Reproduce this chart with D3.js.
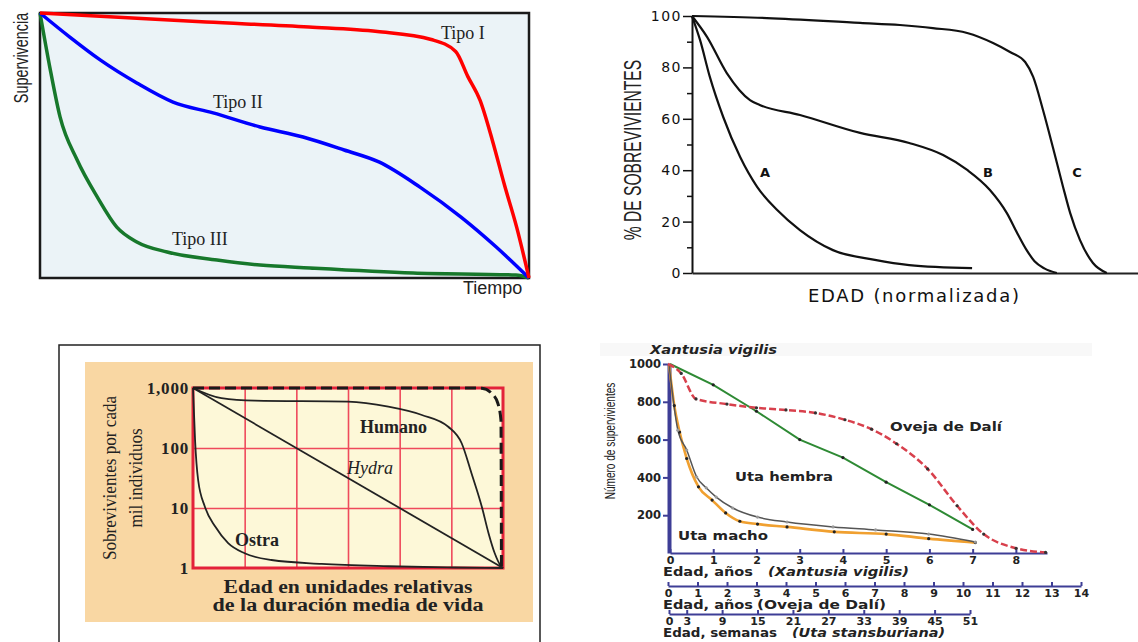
<!DOCTYPE html>
<html lang="es">
<head>
<meta charset="UTF-8">
<title>Curvas de supervivencia</title>
<script src="https://d3js.org/d3.v7.min.js"></script>
<style>
  body { margin: 0; background: #fff; }
  svg { display: block; }
</style>
</head>
<body>
<svg width="1138" height="642"></svg>
<script>
// ---------- Panel 1: Tipo I / II / III (tiempo y supervivencia normalizados 0..1) ----------
const tipoI_t   = [0, 0.34, 0.55, 0.69, 0.80, 0.85, 0.875, 0.90, 0.925, 0.95, 0.975, 1.0];
const tipoI_s   = [1, 0.966, 0.947, 0.93, 0.90, 0.855, 0.76, 0.67, 0.52, 0.35, 0.19, 0];
const tipoII_t  = [0, 0.061, 0.123, 0.198, 0.272, 0.354, 0.45, 0.538, 0.622, 0.693, 0.777, 0.861, 0.933, 1];
const tipoII_s  = [1, 0.909, 0.823, 0.736, 0.664, 0.623, 0.57, 0.532, 0.483, 0.438, 0.343, 0.23, 0.117, 0];
const tipoIII_t = [0, 0.02, 0.041, 0.076, 0.117, 0.157, 0.198, 0.26, 0.362, 0.45, 0.552, 0.763, 0.973, 1];
const tipoIII_s = [1, 0.796, 0.608, 0.445, 0.306, 0.192, 0.136, 0.098, 0.068, 0.049, 0.038, 0.019, 0.011, 0];

// ---------- Panel 2: curvas A, B, C (% de sobrevivientes vs edad normalizada, % del eje) ----------
const curvaA_x = [0, 1.8, 4.0, 7.0, 10.8, 14.6, 19.1, 24.2, 31.6, 41.0, 48.7, 62.8];
const curvaA_y = [100, 90.7, 76.3, 60.7, 45.1, 33.5, 24.5, 16.7, 8.9, 5.1, 3.1, 1.9];
const curvaB_x = [0, 3.4, 7.8, 13.0, 15.2, 24.2, 37.7, 48.7, 56.3, 61.7, 66.8, 70.6, 72.9, 75.0, 76.8, 79.0, 81.8];
const curvaB_y = [100, 91.8, 77.8, 67.3, 65.4, 61.5, 54.5, 50.6, 45.9, 40.1, 32.3, 23.3, 15.6, 9.0, 4.6, 1.8, 0];
const curvaC_x = [0, 16.8, 37.7, 46.6, 54.0, 61.7, 67.5, 71.3, 74.7, 76.5, 78.7, 80.9, 83.2, 84.8, 87.0, 89.9, 93.0];
const curvaC_y = [100, 99.2, 97.3, 96.5, 95.3, 93.4, 89.5, 86.0, 82.1, 76.3, 63.4, 49.0, 33.5, 23.3, 12.8, 3.9, 0];
const pctTicks = [0, 20, 40, 60, 80, 100];
const pctMinor = [10, 30, 50, 70, 90];

// ---------- Panel 3: Humano / Hydra / Ostra (escala log, 6 unidades relativas) ----------
const humano_x = [0, 0.55, 1.2, 3.0, 3.78, 4.43, 4.94, 5.2, 5.39, 5.59, 5.72, 5.84, 5.97, 6];
const humano_n = [1000, 676, 614, 591, 488, 355, 226, 120, 38, 10.5, 3.8, 1.76, 1.05, 1];
const hydra_x  = [0, 6];
const hydra_n  = [1000, 1];
const ostra_x  = [0, 0.04, 0.1, 0.23, 0.43, 0.68, 1.0, 1.52, 2.49, 3.78, 5.07, 6];
const ostra_n  = [1000, 135, 29, 10.5, 4.9, 2.6, 1.76, 1.36, 1.17, 1.07, 1.02, 1];
const ideal_x  = [0, 5.4, 5.59, 5.78, 5.9, 5.96, 5.97];
const ideal_n  = [1000, 1000, 990, 815, 556, 293, 1];
const logTicks = [1, 10, 100, 1000];

// ---------- Panel 4: Xantusia, Oveja de Dalí, Uta ----------
const xantusia_anos = [0, 1, 2, 3, 4, 5, 6, 7];
const xantusia_n    = [1000, 890, 750, 600, 505, 375, 255, 125];
const oveja_anos    = [0, 0.45, 0.95, 2, 3, 4, 5, 6, 6.9, 7.75, 8.8, 9.8, 10.7, 11.8, 12.8];
const oveja_n       = [1000, 950, 815, 788, 768, 757, 741, 705, 655, 578, 445, 250, 100, 25, 3];
const utaH_sem      = [0, 1.5, 3, 4.7, 6.3, 8, 10.8, 15, 20, 27.8, 35, 44, 51.9];
const utaH_n        = [1000, 650, 545, 402, 345, 296, 238, 190, 164, 138, 122, 100, 58];
const utaM_sem      = [0, 0.9, 1.8, 3.0, 5.0, 7.3, 9.6, 12, 15, 20, 28, 36.8, 44, 51.9];
const utaM_n        = [1000, 780, 640, 500, 350, 280, 212, 168, 153, 138, 112, 100, 76, 55];
const nTicks        = [200, 400, 600, 800, 1000];
const xantusiaTicks = d3.range(0, 9);
const ovejaTicks    = d3.range(0, 15);
const utaTicks      = [0, 3, 9, 15, 21, 27, 33, 39, 45, 51];

const zip = (a, b) => a.map((v, i) => [v, b[i]]);
const svg = d3.select("svg");
svg.append("rect").attr("width", 1138).attr("height", 642).attr("fill", "#fff");

const serif = "'Liberation Serif', 'Times New Roman', serif";
const sans = "'Liberation Sans', Arial, sans-serif";

// rotated, horizontally condensed label (narrow typeface look)
function vLabel(g, text, x, y, size, squeeze, family) {
  g.append("text").text(text)
    .attr("transform", `translate(${x},${y}) rotate(-90) scale(${squeeze},1)`)
    .attr("text-anchor", "middle").attr("dominant-baseline", "central")
    .attr("font-family", family || sans).attr("font-size", size).attr("fill", "#222");
}

// ================= Panel 1 =================
const x1 = d3.scaleLinear().domain([0, 1]).range([40, 529]);
const y1 = d3.scaleLinear().domain([0, 1]).range([278, 13]);
const p1 = svg.append("g");
p1.append("rect")
  .attr("x", x1(0)).attr("y", y1(1))
  .attr("width", x1(1) - x1(0)).attr("height", y1(0) - y1(1))
  .attr("fill", "#ebf3f7").attr("stroke", "#1a1a1a").attr("stroke-width", 2.5);
const line1 = d3.line().x(d => x1(d[0])).y(d => y1(d[1])).curve(d3.curveMonotoneX);
[[tipoIII_t, tipoIII_s, "#17782b"], [tipoII_t, tipoII_s, "#0000ff"], [tipoI_t, tipoI_s, "#ff0000"]]
  .forEach(([t, s, c]) => {
    p1.append("path").attr("d", line1(zip(t, s)))
      .attr("fill", "none").attr("stroke", c).attr("stroke-width", 3.5);
  });
[["Tipo I", 441, 33], ["Tipo II", 213, 102], ["Tipo III", 172, 239]].forEach(([t, x, y]) => {
  p1.append("text").text(t).attr("x", x).attr("y", y)
    .attr("dominant-baseline", "central")
    .attr("font-family", serif).attr("font-size", 18).attr("fill", "#222");
});
vLabel(p1, "Supervivencia", 21, 58, 20, 0.72);
p1.append("text").text("Tiempo")
  .attr("x", 463).attr("y", 288).attr("dominant-baseline", "central")
  .attr("font-family", sans).attr("font-size", 18).attr("fill", "#222");

// ================= Panel 2 =================
const x2 = d3.scaleLinear().domain([0, 100]).range([692, 1138]);
const y2 = d3.scaleLinear().domain([0, 100]).range([273, 16]);
const p2 = svg.append("g");
const ax2 = p2.append("g").attr("transform", "translate(692,0)")
  .call(d3.axisLeft(y2).tickValues(pctTicks).tickSize(9).tickSizeOuter(0).tickPadding(1));
ax2.select(".domain").attr("stroke", "#111").attr("stroke-width", 2);
ax2.selectAll("line").attr("stroke", "#111").attr("stroke-width", 1.5);
ax2.selectAll("text").attr("font-family", "'DejaVu Sans', sans-serif")
  .attr("font-size", 14).attr("letter-spacing", 1.5).attr("fill", "#111");
const ax2m = p2.append("g").attr("transform", "translate(692,0)")
  .call(d3.axisLeft(y2).tickValues(pctMinor).tickSize(5).tickFormat(""));
ax2m.select(".domain").remove();
ax2m.selectAll("line").attr("stroke", "#111").attr("stroke-width", 1.5);
const ax2x = p2.append("g").attr("transform", "translate(0,273)")
  .call(d3.axisBottom(x2).tickValues([]).tickSizeOuter(0));
ax2x.select(".domain").attr("stroke", "#222").attr("stroke-width", 2);
const line2 = d3.line().x(d => x2(d[0])).y(d => y2(d[1])).curve(d3.curveMonotoneX);
[[curvaA_x, curvaA_y], [curvaB_x, curvaB_y], [curvaC_x, curvaC_y]].forEach(([a, b]) => {
  p2.append("path").attr("d", line2(zip(a, b)))
    .attr("fill", "none").attr("stroke", "#111").attr("stroke-width", 2.2);
});
[["A", 765], ["B", 988], ["C", 1077]].forEach(([t, x]) => {
  p2.append("text").text(t).attr("x", x).attr("y", 172)
    .attr("text-anchor", "middle").attr("dominant-baseline", "central")
    .attr("font-family", "'DejaVu Sans', sans-serif").attr("font-weight", "bold")
    .attr("font-size", 13).attr("fill", "#111");
});
vLabel(p2, "% DE SOBREVIVIENTES", 633, 150, 24, 0.65);
p2.append("text").text("EDAD (normalizada)")
  .attr("x", 808).attr("y", 295).attr("dominant-baseline", "central")
  .attr("font-family", "'DejaVu Sans', sans-serif").attr("font-size", 18)
  .attr("textLength", 211).attr("lengthAdjust", "spacing").attr("fill", "#111");

// ================= Panel 3 =================
const x3 = d3.scaleLinear().domain([0, 6]).range([193, 503]);
const y3 = d3.scaleLog().domain([1, 1000]).range([568, 388]);
const p3 = svg.append("g");
p3.append("rect").attr("x", 59).attr("y", 345).attr("width", 481).attr("height", 310)
  .attr("fill", "#fff").attr("stroke", "#222").attr("stroke-width", 1.5);
p3.append("rect").attr("x", 85).attr("y", 362).attr("width", 448).attr("height", 260)
  .attr("fill", "#f9d7a3");
p3.append("rect").attr("x", x3(0)).attr("y", y3(1000))
  .attr("width", x3(6) - x3(0)).attr("height", y3(1) - y3(1000)).attr("fill", "#fdf8d8");
const gx3 = p3.append("g").attr("transform", `translate(0,${y3(1)})`)
  .call(d3.axisBottom(x3).tickValues([1, 2, 3, 4, 5]).tickSize(-(y3(1) - y3(1000))).tickFormat(""));
const gy3 = p3.append("g").attr("transform", `translate(${x3(0)},0)`)
  .call(d3.axisLeft(y3).tickValues([10, 100]).tickSize(-(x3(6) - x3(0))).tickFormat(""));
[gx3, gy3].forEach(g => {
  g.select(".domain").remove();
  g.selectAll("line").attr("stroke", "#ef4a5c").attr("stroke-width", 1.6);
});
p3.append("rect").attr("x", x3(0)).attr("y", y3(1000))
  .attr("width", x3(6) - x3(0)).attr("height", y3(1) - y3(1000))
  .attr("fill", "none").attr("stroke", "#e3223a").attr("stroke-width", 3);
const ty3 = p3.append("g").attr("transform", `translate(${x3(0) - 2},0)`)
  .call(d3.axisLeft(y3).tickValues(logTicks).tickFormat(d3.format(",")).tickSize(0).tickPadding(2));
ty3.select(".domain").remove();
ty3.selectAll("text").attr("font-family", serif).attr("font-weight", "bold")
  .attr("font-size", 17).attr("letter-spacing", 0.8).attr("fill", "#222");
const line3 = d3.line().x(d => x3(d[0])).y(d => y3(d[1])).curve(d3.curveMonotoneX);
[[humano_x, humano_n], [hydra_x, hydra_n], [ostra_x, ostra_n]].forEach(([a, b]) => {
  p3.append("path").attr("d", line3(zip(a, b)))
    .attr("fill", "none").attr("stroke", "#222").attr("stroke-width", 1.8);
});
p3.append("path").attr("d", line3(zip(ideal_x, ideal_n)))
  .attr("fill", "none").attr("stroke", "#1a1a1a").attr("stroke-width", 3)
  .attr("stroke-dasharray", "11,5");
[["Humano", 360, 427, "normal"], ["Hydra", 347, 468, "italic"], ["Ostra", 235, 540, "normal"]]
  .forEach(([t, x, y, st]) => {
    p3.append("text").text(t).attr("x", x).attr("y", y).attr("dominant-baseline", "central")
      .attr("font-family", serif).attr("font-size", 18).attr("font-style", st)
      .attr("font-weight", st === "italic" ? "normal" : "bold").attr("fill", "#222");
  });
vLabel(p3, "Sobrevivientes por cada", 110, 478, 18, 0.95, serif);
vLabel(p3, "mil individuos", 136, 478, 18, 0.95, serif);
[["Edad en unidades relativas", 587, 249], ["de la duración media de vida", 605, 271]].forEach(([t, y, len]) => {
  p3.append("text").text(t).attr("x", 348).attr("y", y)
    .attr("text-anchor", "middle").attr("dominant-baseline", "central")
    .attr("font-family", serif).attr("font-weight", "bold").attr("font-size", 18)
    .attr("textLength", len).attr("lengthAdjust", "spacingAndGlyphs").attr("fill", "#222");
});

// ================= Panel 4 =================
const axisBlue = "#3e3e96";
const bold = "'DejaVu Sans', Verdana, sans-serif";
const y4 = d3.scaleLinear().domain([0, 1000]).range([553, 364]);
const xX = d3.scaleLinear().domain([0, 8.72]).range([670, 1047]);
const xO = d3.scaleLinear().domain([0, 14]).range([668, 1081]);
const xU = d3.scaleLinear().domain([0, 51]).range([669, 970]);
const p4 = svg.append("g");
p4.append("rect").attr("x", 600).attr("y", 343).attr("width", 492).attr("height", 13).attr("fill", "#f8f8f8");
p4.append("text").text("Xantusia vigilis").attr("x", 650).attr("y", 350)
  .attr("dominant-baseline", "central").attr("font-family", bold).attr("font-weight", "bold")
  .attr("font-style", "italic").attr("font-size", 12)
  .attr("textLength", 127).attr("lengthAdjust", "spacingAndGlyphs").attr("fill", "#222");

function xAxis4(scale, ticks, y) {
  const g = p4.append("g").attr("transform", `translate(0,${y})`)
    .call(d3.axisBottom(scale).tickValues(ticks).tickSize(-4).tickSizeOuter(0).tickPadding(3));
  g.select(".domain").attr("stroke", axisBlue).attr("stroke-width", 2);
  g.selectAll(".tick line").attr("stroke", axisBlue).attr("stroke-width", 2);
  g.selectAll("text").attr("font-family", bold).attr("font-weight", "bold")
    .attr("font-size", 11).attr("fill", "#222");
  return g;
}
xAxis4(xX, xantusiaTicks, 553);
xAxis4(xO, ovejaTicks, 586);
xAxis4(xU, utaTicks, 614);

const ay4 = p4.append("g").attr("transform", "translate(669,0)")
  .call(d3.axisLeft(y4).tickValues(nTicks).tickFormat(d3.format("d"))
    .tickSize(6).tickSizeOuter(0).tickPadding(2));
ay4.select(".domain").attr("stroke", axisBlue).attr("stroke-width", 4);
ay4.selectAll(".tick line").attr("stroke", axisBlue).attr("stroke-width", 2);
ay4.selectAll("text").attr("font-family", bold).attr("font-weight", "bold")
  .attr("font-size", 11.5).attr("fill", "#222");

vLabel(p4, "Número de supervivientes", 610, 441, 15, 0.67);

const axisTitles = [
  ["Edad, años", 663, 572, 90, "normal"], ["(Xantusia vigilis)", 768, 572, 141, "italic"],
  ["Edad, años", 663, 605, 90, "normal"], ["(Oveja de Dalí)", 757, 605, 129, "normal"],
  ["Edad, semanas", 663, 633, 114, "normal"], ["(Uta stansburiana)", 792, 633, 153, "italic"]
];
axisTitles.forEach(([t, x, y, len, st]) => {
  p4.append("text").text(t).attr("x", x).attr("y", y).attr("dominant-baseline", "central")
    .attr("font-family", bold).attr("font-weight", "bold").attr("font-style", st)
    .attr("font-size", 12).attr("textLength", len).attr("lengthAdjust", "spacingAndGlyphs")
    .attr("fill", "#222");
});

const mono = d3.curveMonotoneX;
const lineXan = d3.line().x(d => xX(d[0])).y(d => y4(d[1]));
const lineOve = d3.line().x(d => xO(d[0])).y(d => y4(d[1])).curve(mono);
const lineUta = d3.line().x(d => xU(d[0])).y(d => y4(d[1])).curve(mono);

p4.append("path").attr("d", lineUta(zip(utaM_sem, utaM_n)))
  .attr("fill", "none").attr("stroke", "#f0a030").attr("stroke-width", 2.6);
p4.append("path").attr("d", lineUta(zip(utaH_sem, utaH_n)))
  .attr("fill", "none").attr("stroke", "#555").attr("stroke-width", 1.5);
p4.append("path").attr("d", lineXan(zip(xantusia_anos, xantusia_n)))
  .attr("fill", "none").attr("stroke", "#2e8a34").attr("stroke-width", 2);
p4.append("path").attr("d", lineOve(zip(oveja_anos, oveja_n)))
  .attr("fill", "none").attr("stroke", "#d8404c").attr("stroke-width", 2.5)
  .attr("stroke-dasharray", "7,3");

// marcadores de los datos
const dots = (xs, ns, sx, color, r) => {
  p4.append("g").selectAll("circle").data(zip(xs, ns).slice(1)).join("circle")
    .attr("cx", d => sx(d[0])).attr("cy", d => y4(d[1])).attr("r", r).attr("fill", color);
};
dots(utaM_sem, utaM_n, xU, "#222", 1.6);
dots(utaH_sem, utaH_n, xU, "#999", 1.6);
dots(xantusia_anos, xantusia_n, xX, "#222", 1.6);
dots(oveja_anos, oveja_n, xO, "#333", 1.6);

[["Oveja de Dalí", 890, 426, 112], ["Uta hembra", 735, 476, 98], ["Uta macho", 678, 535, 90]]
  .forEach(([t, x, y, len]) => {
    p4.append("text").text(t).attr("x", x).attr("y", y).attr("dominant-baseline", "central")
      .attr("font-family", bold).attr("font-weight", "bold").attr("font-size", 12.5)
      .attr("textLength", len).attr("lengthAdjust", "spacingAndGlyphs").attr("fill", "#222");
  });
</script>
</body>
</html>
